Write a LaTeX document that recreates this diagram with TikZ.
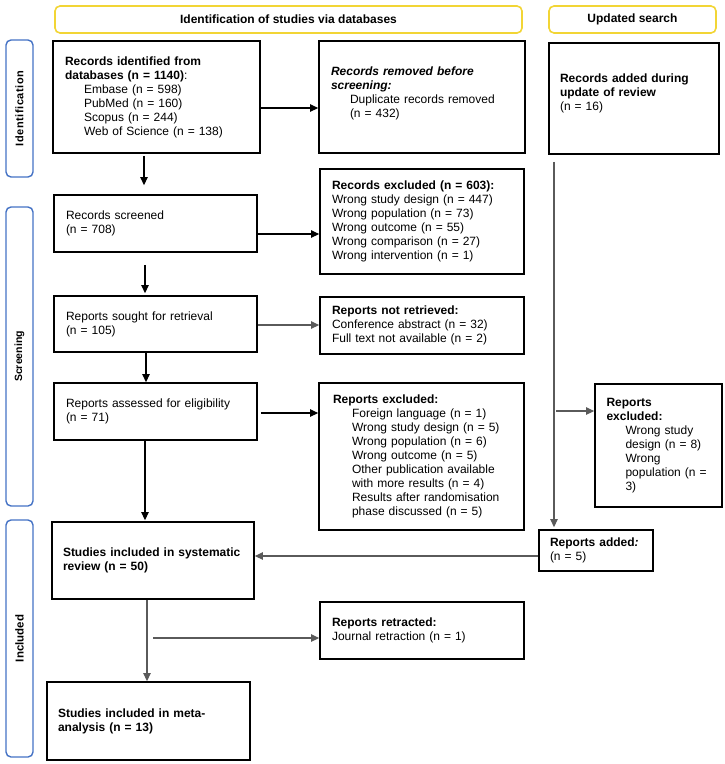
\documentclass[tikz,border=0pt]{standalone}
\usepackage{fontspec}
\setmainfont{Liberation Sans}
\newfontfamily\sidewide[LetterSpace=5]{Liberation Sans}
\usetikzlibrary{arrows.meta}
\definecolor{hdryellow}{HTML}{F2D535}
\definecolor{sideblue}{HTML}{4472C4}
\definecolor{arrgray}{HTML}{5A5A5A}
\begin{document}
\begin{tikzpicture}[x=1pt,y=-1pt,
  box/.style={draw=black, line width=1.8pt, align=left, inner ysep=0pt, inner xsep=12pt,
    font=\fontsize{12}{14}\selectfont, anchor=center},
  hdr/.style={draw=hdryellow, line width=1.6pt, rounded corners=5pt,
    font=\fontsize{12}{14}\selectfont\bfseries, inner sep=0pt},
  side/.style={draw=sideblue, line width=1.4pt, rounded corners=5pt,
    font=\fontsize{10.5}{13}\selectfont\bfseries, inner sep=0pt, rotate=90},
  arr/.style={line width=1.2pt, draw=black, -{Triangle[length=8pt,width=7.5pt]}},
  garr/.style={arr, draw=arrgray}]
\useasboundingbox (0,0) rectangle (725,764);

% headers
\node[hdr, minimum width=467pt, minimum height=27pt] (h1) at (288.5,19.5) {Identification of studies via databases};
\node[hdr, minimum width=167pt, minimum height=27pt] (h2) at (632.5,19.5) {Updated search};

% side labels
\node[side, minimum width=137pt, minimum height=27pt, font=\fontsize{11}{13}\sidewide\bfseries] (s1) at (19.5,108.5) {Identification};
\node[side, minimum width=299pt, minimum height=27pt] (s2) at (19.5,356.5) {Screening};
\node[side, minimum width=237pt, minimum height=27pt, font=\fontsize{11.5}{13}\selectfont\bfseries] (s3) at (19.5,638.5) {Included};

% boxes
\node[box, minimum width=207pt, minimum height=112pt, text width=183pt] (A) at (156.5,97)
 {\textbf{Records identified from}\\\textbf{databases (n = 1140)}:\\
  \hspace*{19pt}Embase (n = 598)\\\hspace*{19pt}PubMed (n = 160)\\
  \hspace*{19pt}Scopus (n = 244)\\\hspace*{19pt}Web of Science (n = 138)};
\node[box, minimum width=206pt, minimum height=112pt, text width=182pt] (B) at (422,97)
 {\textbf{\itshape Records removed before}\\\textbf{\itshape screening:}\\
  \hspace*{19pt}Duplicate records removed\\\hspace*{19pt}(n = 432)\\[-4pt]\mbox{}};
\node[box, minimum width=170pt, minimum height=111pt, text width=148pt, inner xsep=11pt] (C) at (634,98.5)
 {\textbf{Records added during}\\\textbf{update of review}\\(n = 16)\\[-2pt]\mbox{}};
\node[box, minimum width=203pt, minimum height=57pt, text width=179pt] (D) at (155.5,223.5)
 {Records screened\\(n = 708)};
\node[box, minimum width=204pt, minimum height=105pt, text width=180pt] (E) at (422,221.5)
 {\textbf{Records excluded (n = 603):}\\Wrong study design (n = 447)\\Wrong population (n = 73)\\
  Wrong outcome (n = 55)\\Wrong comparison (n = 27)\\Wrong intervention (n = 1)};
\node[box, minimum width=203pt, minimum height=56pt, text width=179pt] (F) at (155.5,324)
 {Reports sought for retrieval\\(n = 105)};
\node[box, minimum width=204pt, minimum height=57pt, text width=180pt] (G) at (422,325.5)
 {\textbf{Reports not retrieved:}\\Conference abstract (n = 32)\\Full text not available (n = 2)};
\node[box, minimum width=203pt, minimum height=57pt, text width=179pt] (H) at (155.5,411.5)
 {Reports assessed for eligibility\\(n = 71)};
\node[box, minimum width=205pt, minimum height=147pt, text width=177pt, inner xsep=14pt] (I) at (421.5,456.5)
 {\textbf{Reports excluded:}\\
  \hspace*{19pt}Foreign language (n = 1)\\\hspace*{19pt}Wrong study design (n = 5)\\
  \hspace*{19pt}Wrong population (n = 6)\\\hspace*{19pt}Wrong outcome (n = 5)\\
  \hspace*{19pt}Other publication available\\\hspace*{19pt}with more results (n = 4)\\
  \hspace*{19pt}Results after randomisation\\\hspace*{19pt}phase discussed (n = 5)};
\node[box, minimum width=127pt, minimum height=123pt, text width=104pt, inner xsep=11.5pt] (J) at (658.5,445.5)
 {\textbf{Reports}\\\textbf{excluded:}\\
  \hspace*{19pt}Wrong study\\\hspace*{19pt}design (n = 8)\\\hspace*{19pt}Wrong\\
  \hspace*{19pt}population (n =\\\hspace*{19pt}3)};
\node[box, minimum width=114pt, minimum height=41pt, text width=92pt, inner xsep=11pt] (K) at (596,550.5)
 {\textbf{Reports added\textit{:}}\\(n = 5)};
\node[box, minimum width=202pt, minimum height=77pt, text width=180pt, inner xsep=11pt] (L) at (153,560.5)
 {\textbf{Studies included in systematic}\\\textbf{review (n = 50)}};
\node[box, minimum width=204pt, minimum height=57pt, text width=180pt] (M) at (422,630.5)
 {\textbf{Reports retracted:}\\Journal retraction (n = 1)};
\node[box, minimum width=203pt, minimum height=78pt, text width=181pt, inner xsep=11pt] (N) at (148.5,721)
 {\textbf{Studies included in meta-}\\\textbf{analysis (n = 13)}};

% connectors
\draw[arr] ([yshift=-11pt]A.east) -- ([yshift=-11pt]B.west);
\draw[arr, shorten <=2pt, shorten >=9pt] ([xshift=-12.5pt]A.south) -- ([xshift=-12.5pt]A.south |- D.north);
\draw[arr] ([yshift=-10.5pt]D.east) -- ([yshift=-10.5pt]D.east -| E.west);
\draw[arr, shorten <=12pt, shorten >=2pt] ([xshift=-10.5pt]D.south) -- ([xshift=-10.5pt]D.south |- F.north);
\draw[garr] ([yshift=-1pt]F.east) -- ([yshift=-1pt]F.east -| G.west);
\draw[arr] ([xshift=-9.5pt]F.south) -- ([xshift=-9.5pt]F.south |- H.north);
\draw[arr, shorten <=3pt] ([yshift=-1.5pt]H.east) -- ([yshift=-1.5pt]H.east -| I.west);
\draw[arr, shorten >=1pt] ([xshift=-10.5pt]H.south) -- ([xshift=-10.5pt]H.south |- L.north);
\draw[garr, shorten <=7pt, shorten >=2pt] ([xshift=-80pt]C.south) -- ([xshift=-80pt]C.south |- K.north);
\draw[garr] ([xshift=-38pt,yshift=34.5pt]J.west) -- ([yshift=34.5pt]J.west);
\draw[garr] ([yshift=-5.5pt]K.west) -- ([yshift=-5.5pt]K.west -| L.east);
\draw[garr] ([xshift=-6pt]L.south) -- ([xshift=-6pt]L.south |- N.north);
\draw[garr] ([yshift=-7.5pt]M.west -| L.south) -- ([yshift=-7.5pt]M.west);
\end{tikzpicture}
\end{document}
